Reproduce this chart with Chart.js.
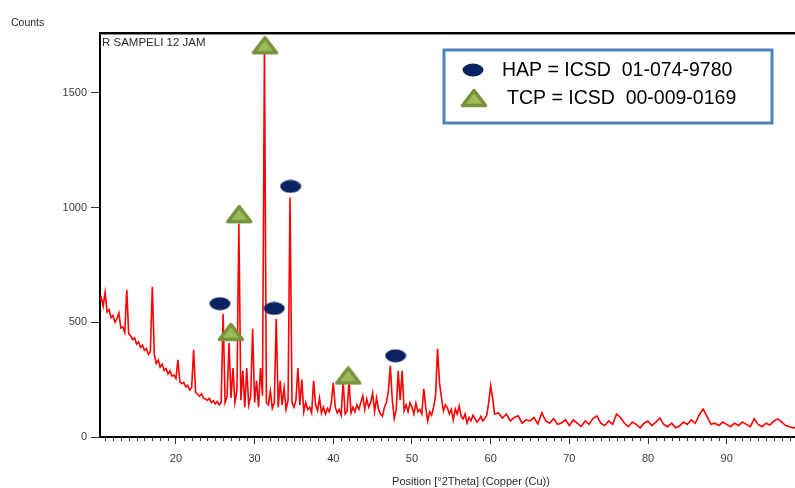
<!DOCTYPE html>
<html>
<head>
<meta charset="utf-8">
<title>XRD R SAMPELI 12 JAM</title>
<script src="https://cdn.jsdelivr.net/npm/chart.js@4"></script>
<style>
  html, body { margin: 0; padding: 0; background: #fff; }
  #wrap { width: 795px; height: 488px; position: relative; }
</style>
</head>
<body>
<div id="wrap"><canvas id="xrd"></canvas></div>
<script>
// scan data (2theta in degrees, counts)
const twoTheta = [
  10.25, 10.5, 10.75,
  11, 11.25, 11.5, 11.75,
  12, 12.25, 12.5, 12.75,
  13, 13.25, 13.5, 13.75,
  14, 14.25, 14.5, 14.75,
  15, 15.25, 15.5, 15.75,
  16, 16.25, 16.5, 16.75,
  17, 17.25, 17.5, 17.75,
  18, 18.25, 18.5, 18.75,
  19, 19.25, 19.5, 19.75,
  20, 20.25, 20.5, 20.75,
  21, 21.25, 21.5, 21.75,
  22, 22.25, 22.5, 22.75,
  23, 23.25, 23.5, 23.75,
  24, 24.25, 24.5, 24.75,
  25, 25.25, 25.5, 25.75,
  26, 26.25, 26.5, 26.75,
  27, 27.25, 27.5, 27.75,
  28, 28.25, 28.5, 28.75,
  29, 29.25, 29.5, 29.75,
  30, 30.25, 30.5, 30.75,
  31, 31.25, 31.5, 31.75,
  32, 32.25, 32.5, 32.75,
  33, 33.25, 33.5, 33.75,
  34, 34.25, 34.5, 34.75,
  35, 35.25, 35.5, 35.75,
  36, 36.25, 36.5, 36.75,
  37, 37.25, 37.5, 37.75,
  38, 38.25, 38.5, 38.75,
  39, 39.25, 39.5, 39.75,
  40, 40.25, 40.5, 40.75,
  41, 41.25, 41.5, 41.75,
  42, 42.25, 42.5, 42.75,
  43, 43.25, 43.5, 43.75,
  44, 44.25, 44.5, 44.75,
  45, 45.25, 45.5, 45.75,
  46, 46.25, 46.5, 46.75,
  47, 47.25, 47.5, 47.75,
  48, 48.25, 48.5, 48.75,
  49, 49.25, 49.5, 49.75,
  50, 50.25, 50.5, 50.75,
  51, 51.25, 51.5, 51.75,
  52, 52.25, 52.5, 52.75,
  53, 53.25, 53.5, 53.75,
  54, 54.25, 54.5, 54.75,
  55, 55.25, 55.5, 55.75,
  56, 56.25, 56.5, 56.75,
  57, 57.25, 57.5, 57.75,
  58, 58.25, 58.5, 58.75,
  59, 59.25, 59.5, 59.75,
  60, 60.25, 60.5,
  61, 61.5, 62, 62.5, 63, 63.5, 64, 64.5, 65, 65.5,
  66, 66.5, 67, 67.5, 68, 68.5, 69, 69.5, 70, 70.5,
  71, 71.5, 72, 72.5, 73, 73.5, 74, 74.5, 75, 75.5,
  76, 76.5, 77, 77.5, 78, 78.5, 79, 79.5, 80, 80.5,
  81, 81.5, 82, 82.5, 83, 83.5, 84, 84.5, 85, 85.5,
  86, 86.5, 87, 87.5, 88, 88.5, 89, 89.5, 90, 90.5,
  91, 91.5, 92, 92.5, 93, 93.5, 94, 94.5, 95, 95.5,
  96, 96.5, 97, 97.5, 98, 98.5, 99
];
const counts = [
  595, 610, 570,
  630, 545, 555, 520,
  530, 500, 515, 540,
  475, 480, 455, 642,
  450, 440, 425, 432,
  405, 415, 390, 400,
  378, 385, 360, 372,
  655, 360, 320, 335,
  305, 318, 290, 298,
  275, 288, 265, 270,
  255, 336, 240, 232,
  238, 218, 225, 205,
  215, 380, 195, 185,
  178, 188, 170, 165,
  160, 168, 150, 158,
  145, 155, 140, 150,
  537, 150, 175, 410,
  170, 300, 150, 200,
  930, 160, 288, 130,
  300, 140, 180, 472,
  150, 245, 130, 300,
  180, 1690, 150, 140,
  200, 125, 150, 515,
  130, 245, 140, 214,
  120, 160, 1044, 150,
  130, 160, 300, 140,
  250, 110, 150, 120,
  130, 105, 245, 140,
  115, 170, 105, 130,
  100, 125, 110, 150,
  236, 130, 105, 120,
  95, 245, 100, 110,
  245, 105, 130, 110,
  140, 120, 150, 179,
  120, 165, 130, 150,
  192, 110, 170, 120,
  100, 90, 130, 150,
  200, 310, 160, 80,
  120, 288, 160, 288,
  115, 140, 110, 150,
  130, 100, 148, 110,
  120, 100, 210, 130,
  70, 110, 95, 130,
  180, 384, 236, 170,
  113, 140, 127, 100,
  120, 75, 122, 100,
  135, 90, 79, 100,
  61, 85, 70, 95,
  80, 65, 75, 90,
  70, 80, 95, 150,
  223, 170, 100,
  105, 83, 100, 70, 85, 92, 60, 75, 70, 85,
  57, 105, 70, 60, 80, 55, 61, 75, 50, 74,
  60, 45, 70, 55, 80, 92, 60, 50, 70, 55,
  100, 85, 60, 45, 65, 55, 40, 60, 70, 50,
  65, 83, 55, 45, 60, 40, 48, 65, 55, 75,
  60, 95, 122, 90, 55, 60, 50, 65, 55, 45,
  60, 50, 65, 55, 45, 79, 55, 45, 60, 52,
  70, 79, 65, 50, 45, 40, 42
];

// phase markers placed above the peaks
const hapAngles = [25.59, 32.49, 34.57, 47.92];
const hapCounts = [581, 560, 1092, 354];
const tcpAngles = [26.99, 28.04, 31.31, 41.9];
const tcpCounts = [458, 971, 1707, 268];

const xTicks = [20, 30, 40, 50, 60, 70, 80, 90];
const yTicks = [0, 500, 1000, 1500];

const hapLabel = 'HAP = ICSD  01-074-9780';
const tcpLabel = 'TCP = ICSD  00-009-0169';

// marker images
function makeEllipse() {
  const c = document.createElement('canvas');
  c.width = 22; c.height = 14;
  const g = c.getContext('2d');
  g.fillStyle = '#0b2461';
  g.beginPath();
  g.ellipse(11, 7, 10.5, 6.5, 0, 0, Math.PI * 2);
  g.fill();
  return c;
}
function makeTriangle() {
  const c = document.createElement('canvas');
  c.width = 28; c.height = 20;
  const g = c.getContext('2d');
  g.beginPath();
  g.moveTo(14, 2.5);
  g.lineTo(25.5, 17.5);
  g.lineTo(2.5, 17.5);
  g.closePath();
  g.fillStyle = '#9bbb59';
  g.fill();
  g.lineJoin = 'round';
  g.lineWidth = 3.5;
  g.strokeStyle = '#76923c';
  g.stroke();
  return c;
}
const ellipseImg = makeEllipse();
const triangleImg = makeTriangle();

const font = 'Liberation Sans, Arial, sans-serif';

const decorations = {
  id: 'decorations',
  afterDraw(chart) {
    const ctx = chart.ctx;
    const area = chart.chartArea;
    const xs = chart.scales.x;
    ctx.save();

    // top frame line
    ctx.strokeStyle = '#000';
    ctx.lineWidth = 2;
    ctx.beginPath();
    ctx.moveTo(area.left - 1, area.top - 1);
    ctx.lineTo(chart.width, area.top - 1);
    ctx.stroke();
    ctx.strokeStyle = '#8a8a8a';
    ctx.lineWidth = 1;
    ctx.beginPath();
    ctx.moveTo(area.left, area.top + 0.5);
    ctx.lineTo(chart.width, area.top + 0.5);
    ctx.stroke();

    // minor x ticks every degree
    ctx.strokeStyle = '#333';
    ctx.lineWidth = 1;
    ctx.beginPath();
    for (let v = 11; v <= 98; v++) {
      if (v % 10 === 0) continue;
      const px = Math.round(xs.getPixelForValue(v)) + 0.5;
      ctx.moveTo(px, area.bottom);
      ctx.lineTo(px, area.bottom + 4);
    }
    ctx.stroke();

    // texts
    ctx.fillStyle = '#2b2b2b';
    ctx.font = '10.5px ' + font;
    ctx.textBaseline = 'middle';
    ctx.textAlign = 'left';
    ctx.fillText('Counts', 11, 23);
    ctx.font = '11.5px ' + font;
    ctx.fillText('R SAMPELI 12 JAM', area.left + 2, area.top + 9);
    ctx.font = '11px ' + font;
    ctx.textAlign = 'center';
    ctx.fillText('Position [\u00b02Theta] (Copper (Cu))', 471, 482);

    // legend box
    ctx.strokeStyle = '#4f81bd';
    ctx.lineWidth = 3;
    ctx.fillStyle = '#fff';
    ctx.fillRect(444, 50, 328, 73);
    ctx.strokeRect(444, 50, 328, 73);
    ctx.drawImage(ellipseImg, 473 - 11, 70 - 7);
    ctx.drawImage(triangleImg, 474 - 14, 99 - 11);
    ctx.fillStyle = '#000';
    ctx.font = '19.5px ' + font;
    ctx.textAlign = 'left';
    ctx.fillText(hapLabel, 502, 71);
    ctx.fillText(tcpLabel, 507, 99);
    ctx.restore();
  }
};

const ctx = document.getElementById('xrd').getContext('2d');
const chart = new Chart(ctx, {
  type: 'line',
  data: {
    datasets: [
      {
        label: 'HAP',
        type: 'scatter',
        data: hapAngles.map((a, i) => ({ x: a, y: hapCounts[i] })),
        pointStyle: ellipseImg,
        clip: false
      },
      {
        label: 'TCP',
        type: 'scatter',
        data: tcpAngles.map((a, i) => ({ x: a, y: tcpCounts[i] })),
        pointStyle: triangleImg,
        clip: false
      },
      {
        label: 'R SAMPELI 12 JAM',
        data: twoTheta.map((t, i) => ({ x: t, y: counts[i] })),
        borderColor: '#ff0000',
        borderWidth: 1.6,
        pointRadius: 0,
        tension: 0
      }
    ]
  },
  options: {
    responsive: true,
    maintainAspectRatio: false,
    animation: false,
    devicePixelRatio: 1,
    layout: { autoPadding: false, padding: { top: 34, right: 0, left: 0, bottom: 0 } },
    plugins: {
      legend: { display: false },
      tooltip: { enabled: false },
      title: { display: false }
    },
    scales: {
      x: {
        type: 'linear',
        min: 10.35,
        max: 98.68,
        afterFit(scale) {
          scale.height = 51;
          scale.paddingLeft = 0;
          scale.paddingRight = 0;
        },
        afterBuildTicks(scale) { scale.ticks = xTicks.map(v => ({ value: v })); },
        border: { display: true, color: '#000', width: 2 },
        grid: { drawOnChartArea: false, drawTicks: true, tickLength: 7, color: '#333' },
        ticks: { font: { family: font, size: 11 }, color: '#3a3a3a', padding: 8, maxRotation: 0 }
      },
      y: {
        min: 0,
        max: 1756,
        afterFit(scale) {
          scale.width = 100;
          scale.paddingTop = 0;
          scale.paddingBottom = 0;
        },
        afterBuildTicks(scale) { scale.ticks = yTicks.map(v => ({ value: v })); },
        border: { display: true, color: '#000', width: 2 },
        grid: { drawOnChartArea: false, drawTicks: true, tickLength: 9, color: '#333' },
        ticks: {
          font: { family: font, size: 11 },
          color: '#3a3a3a',
          padding: 4,
          callback: v => String(v)
        }
      }
    }
  },
  plugins: [decorations]
});
</script>
</body>
</html>
